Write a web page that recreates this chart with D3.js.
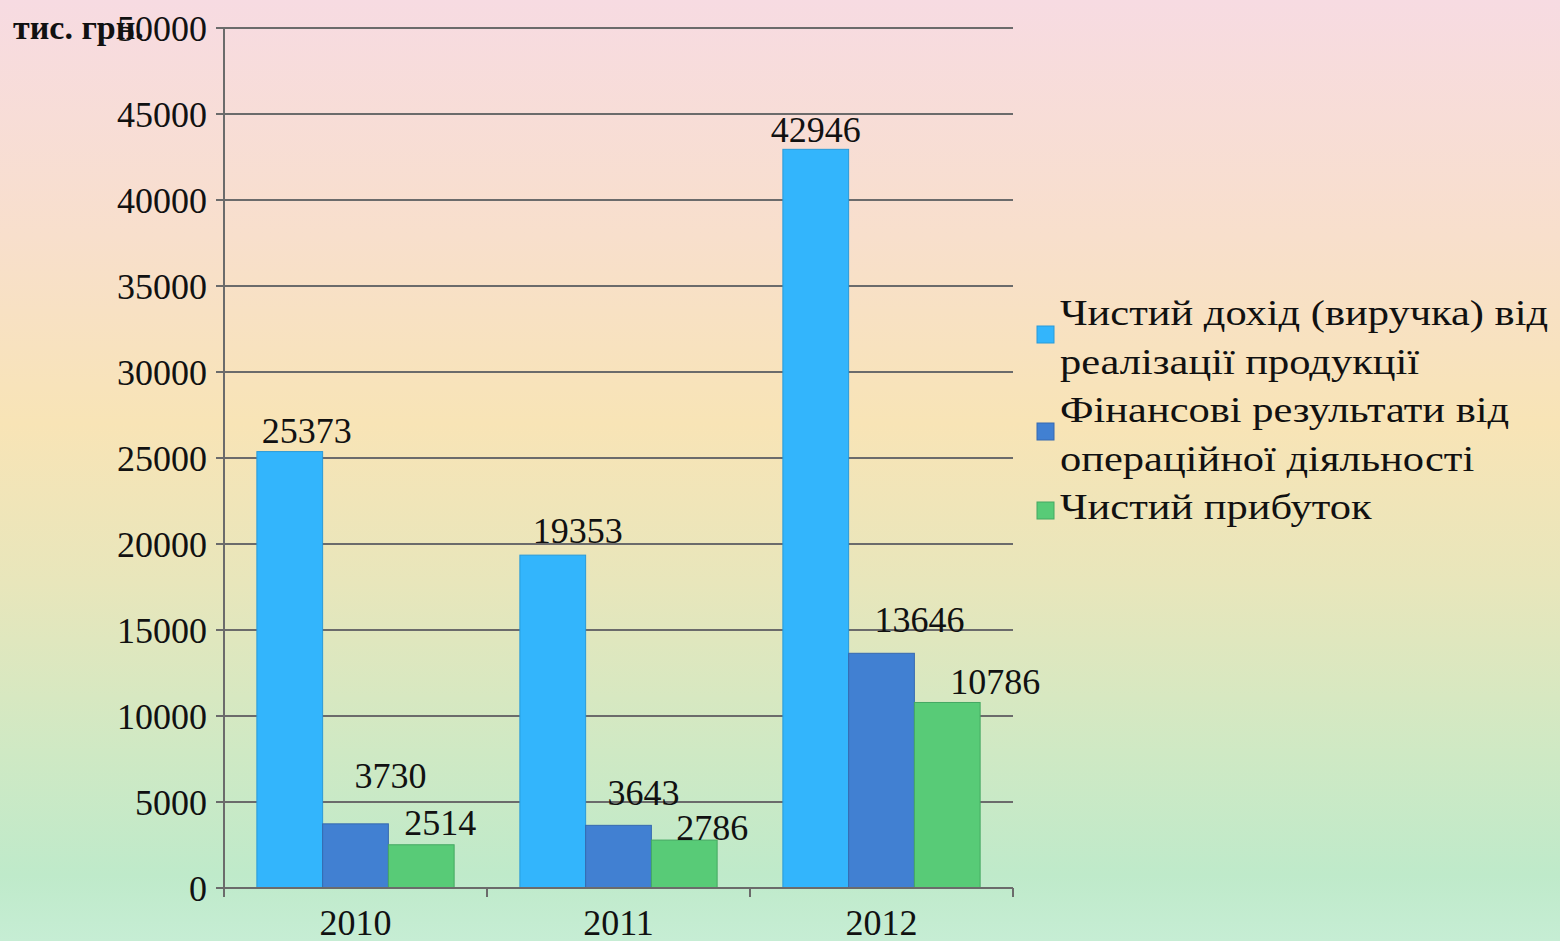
<!DOCTYPE html>
<html>
<head>
<meta charset="utf-8">
<script src="https://cdn.jsdelivr.net/npm/d3@7"></script>
<style>
  html, body { margin: 0; padding: 0; }
  body { width: 1560px; height: 941px; overflow: hidden;
         background: linear-gradient(to bottom, #f7dbe2 0%, #f8dfcc 25%, #f8e4b6 45%, #e8e6bb 62%, #cfe9c4 80%, #bfeaca 93%, #c6edd4 100%); }
  svg text { font-family: "Liberation Serif", "Times New Roman", serif; fill: #111; }
</style>
</head>
<body>
<svg id="chart" width="1560" height="941"></svg>
<script>
var years = ['2010', '2011', '2012'];
var seriesNames = [
    ['Чистий дохід (виручка) від', 'реалізації продукції'],
    ['Фінансові результати від', 'операційної діяльності'],
    ['Чистий прибуток']
];
var revenue = [25373, 19353, 42946];
var operating = [3730, 3643, 13646];
var netProfit = [2514, 2786, 10786];
var yTicks = [0, 5000, 10000, 15000, 20000, 25000, 30000, 35000, 40000, 45000, 50000];
var colors = ['#33b5fc', '#4180d2', '#58cb77'];
var strokes = ['#2a9ad8', '#3669b0', '#45a862'];

// value labels are nudged by hand in the original
var labelDx = [[17, 25, 0], [35, 25, 38], [19, 28, 48]];
var labelDy = [[-9, -12, -7], [-36, -20, -21], [-10, 0, -8]];

var series = [revenue, operating, netProfit];

var svg = d3.select('#chart');
var plotLeft = 224, plotRight = 1013, plotTop = 28, plotBottom = 888;

var y = d3.scaleLinear().domain([0, 50000]).range([plotBottom, plotTop]);
var x0 = d3.scaleBand().domain(years).range([plotLeft, plotRight]).paddingInner(0.25).paddingOuter(0.125);
var x1 = d3.scaleBand().domain([0, 1, 2]).range([0, x0.bandwidth()]);
var step = (plotRight - plotLeft) / years.length;

// grid lines + y ticks
svg.append('g')
    .selectAll('line')
    .data(yTicks.slice(1))
    .enter()
    .append('line')
    .attr('x1', plotLeft - 8)
    .attr('x2', plotRight)
    .attr('y1', d => y(d))
    .attr('y2', d => y(d))
    .attr('stroke', '#6b6b6b')
    .attr('stroke-width', 2);

svg.append('g')
    .selectAll('text')
    .data(yTicks)
    .enter()
    .append('text')
    .attr('x', plotLeft - 17)
    .attr('y', d => y(d))
    .attr('dy', '0.35em')
    .attr('text-anchor', 'end')
    .style('font-size', '36px')
    .text(d => d);

// bars
var groups = svg.append('g')
    .selectAll('g')
    .data(years)
    .enter()
    .append('g')
    .attr('transform', d => 'translate(' + x0(d) + ',0)');

groups.selectAll('rect')
    .data((d, i) => series.map((s, k) => ({ k: k, i: i, v: s[i] })))
    .enter()
    .append('rect')
    .attr('x', d => x1(d.k))
    .attr('y', d => y(d.v))
    .attr('width', x1.bandwidth())
    .attr('height', d => y(0) - y(d.v))
    .attr('fill', d => colors[d.k])
    .attr('stroke', d => strokes[d.k])
    .attr('stroke-width', 1);

groups.selectAll('text')
    .data((d, i) => series.map((s, k) => ({ k: k, i: i, v: s[i] })))
    .enter()
    .append('text')
    .attr('x', d => x1(d.k) + x1.bandwidth() / 2 + labelDx[d.k][d.i])
    .attr('y', d => y(d.v) + labelDy[d.k][d.i])
    .attr('text-anchor', 'middle')
    .style('font-size', '36px')
    .text(d => d.v);

// axes
svg.append('line')
    .attr('x1', plotLeft).attr('x2', plotLeft)
    .attr('y1', plotTop).attr('y2', plotBottom + 9)
    .attr('stroke', '#6b6b6b').attr('stroke-width', 2);
svg.append('line')
    .attr('x1', plotLeft - 8).attr('x2', plotRight)
    .attr('y1', plotBottom).attr('y2', plotBottom)
    .attr('stroke', '#6b6b6b').attr('stroke-width', 2);
svg.append('g')
    .selectAll('line')
    .data(d3.range(years.length + 1))
    .enter()
    .append('line')
    .attr('x1', d => plotLeft + d * step)
    .attr('x2', d => plotLeft + d * step)
    .attr('y1', plotBottom)
    .attr('y2', plotBottom + 9)
    .attr('stroke', '#6b6b6b')
    .attr('stroke-width', 2);

svg.append('g')
    .selectAll('text')
    .data(years)
    .enter()
    .append('text')
    .attr('x', d => x0(d) + x0.bandwidth() / 2)
    .attr('y', 935)
    .attr('text-anchor', 'middle')
    .style('font-size', '36px')
    .text(d => d);

// unit label, sits on top of the 50000 tick like in the original
svg.append('text')
    .attr('x', 13)
    .attr('y', 39)
    .style('font-size', '34px')
    .style('font-weight', 'bold')
    .text('тис. грн.');

// legend (original font is wider than Times, so stretch it a bit)
var legendY = [325, 422, 519];
var legend = svg.append('g')
    .selectAll('g')
    .data(seriesNames)
    .enter()
    .append('g');

legend.append('rect')
    .attr('x', 1037)
    .attr('y', (d, i) => legendY[i] + (d.length > 1 ? 1 : -17))
    .attr('width', 17)
    .attr('height', 17)
    .attr('fill', (d, i) => colors[i])
    .attr('stroke', (d, i) => strokes[i]);

legend.each(function (d, i) {
    d3.select(this)
        .selectAll('text')
        .data(d)
        .enter()
        .append('text')
        .attr('transform', (t, j) => 'translate(1060,' + (legendY[i] + j * 48.5) + ') scale(1.18,1)')
        .style('font-size', '36px')
        .text(t => t);
});
</script>
</body>
</html>
